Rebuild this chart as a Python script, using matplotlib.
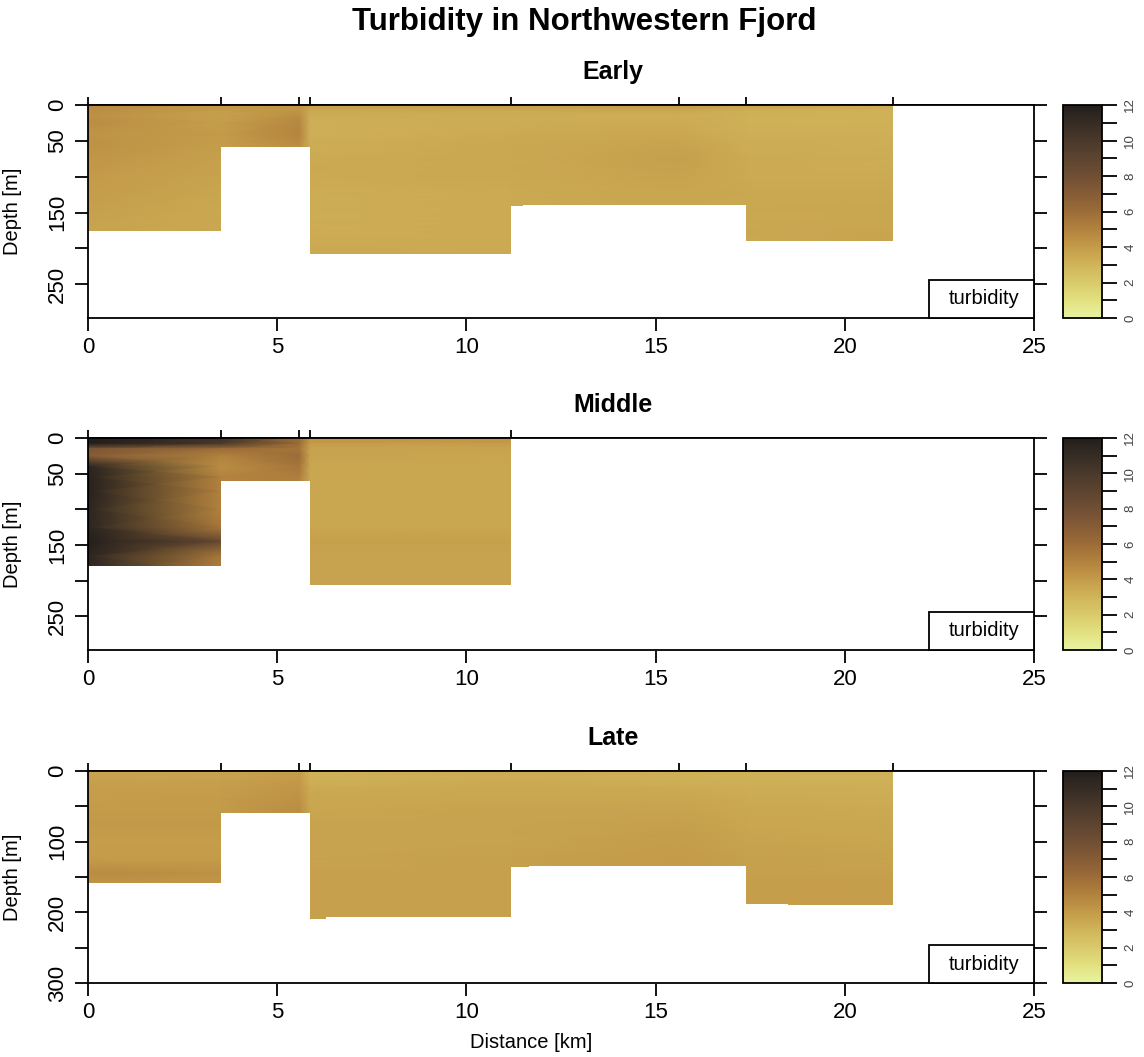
import numpy as np
import matplotlib
matplotlib.use("Agg")
import matplotlib.pyplot as plt
from matplotlib.colors import LinearSegmentedColormap, Normalize
from matplotlib.patches import Rectangle
import matplotlib.cm as cm

plt.rcParams['font.family'] = ['Liberation Sans', 'DejaVu Sans']

# STATION POSITIONS [km] AND PROFILE DEPTH LEVELS [m]
stations_km = [0.0, 3.52, 5.58, 5.87, 11.17, 15.63, 17.39, 21.28]
levels_m = [0, 8, 15, 25, 40, 55, 75, 100, 125, 145, 165, 190, 215]

# TURBIDITY PROFILES, ONE ROW PER STATION
early_turb = [
    [4.7, 4.5, 4.4, 4.5, 4.3, 4.4, 4.2, 4.0, 3.9, 3.8, 3.7, 3.6, 3.6],
    [4.2, 3.9, 3.8, 3.9, 4.0, 3.9, 3.8, 3.7, 3.6, 3.5, 3.5, 3.5, 3.5],
    [4.2, 4.3, 4.5, 4.8, 4.9, 4.6, 4.2, 4.0, 3.8, 3.7, 3.6, 3.6, 3.6],
    [3.9, 3.5, 3.3, 3.2, 3.2, 3.3, 3.4, 3.4, 3.3, 3.3, 3.3, 3.4, 3.5],
    [4.0, 3.4, 3.3, 3.3, 3.4, 3.5, 3.5, 3.5, 3.4, 3.4, 3.4, 3.4, 3.4],
    [4.1, 3.5, 3.3, 3.4, 3.5, 3.7, 3.8, 3.7, 3.6, 3.6, 3.6, 3.6, 3.6],
    [3.8, 3.2, 3.1, 3.1, 3.2, 3.3, 3.4, 3.4, 3.5, 3.5, 3.5, 3.5, 3.5],
    [3.4, 3.1, 3.1, 3.1, 3.2, 3.2, 3.3, 3.4, 3.5, 3.6, 3.6, 3.7, 3.7],
]
middle_turb = [
    [12.0, 12.0, 7.5, 7.0, 11.5, 11.8, 11.8, 11.5, 11.5, 12.0, 11.5, 11.5, 11.5],
    [10.5, 10.0, 6.0, 5.0, 4.5, 5.0, 5.0, 5.0, 5.5, 8.5, 5.5, 5.0, 5.0],
    [6.0, 6.0, 5.6, 6.0, 5.6, 5.2, 4.8, 4.8, 4.8, 4.8, 4.8, 4.8, 4.8],
    [4.4, 3.9, 3.7, 3.7, 3.6, 3.6, 3.6, 3.6, 3.6, 3.8, 3.7, 3.7, 3.7],
    [4.4, 3.9, 3.7, 3.6, 3.6, 3.6, 3.6, 3.6, 3.6, 3.8, 3.7, 3.7, 3.7],
]
late_turb = [
    [3.7, 3.7, 3.8, 3.9, 3.9, 4.0, 4.1, 3.9, 4.0, 4.6, 4.1, 4.1, 4.1],
    [3.7, 3.7, 3.8, 3.9, 4.0, 4.0, 4.1, 3.9, 4.0, 4.4, 4.1, 4.1, 4.1],
    [3.9, 4.0, 4.1, 4.2, 4.4, 4.5, 4.2, 4.1, 4.0, 4.0, 4.0, 4.0, 4.0],
    [3.1, 3.1, 3.2, 3.4, 3.5, 3.6, 3.7, 3.7, 3.7, 3.8, 3.8, 3.8, 3.8],
    [3.4, 3.3, 3.4, 3.5, 3.6, 3.7, 3.7, 3.7, 3.8, 3.8, 3.8, 3.8, 3.8],
    [3.2, 3.1, 3.2, 3.4, 3.6, 3.7, 3.8, 3.9, 4.0, 3.9, 3.9, 3.9, 3.9],
    [3.2, 3.1, 3.2, 3.3, 3.4, 3.5, 3.6, 3.7, 3.8, 3.8, 3.9, 3.9, 3.9],
    [3.2, 3.1, 3.1, 3.2, 3.3, 3.4, 3.5, 3.6, 3.7, 3.8, 3.9, 3.9, 3.9],
]

# BOTTOM (STEP) EDGES [km] AND DEPTHS [m]
early_bot_x = [0, 3.52, 5.87, 11.17, 11.5, 17.39, 21.28]
early_bot_d = [175, 59, 208, 141, 139.5, 189]
middle_bot_x = [0, 3.52, 5.87, 11.17]
middle_bot_d = [179, 60.5, 206.5]
late_bot_x = [0, 3.52, 5.87, 6.3, 11.17, 11.65, 17.39, 18.5, 21.28]
late_bot_d = [159, 60, 210, 206.5, 136, 135, 187.7, 190]

titles = ["Early", "Middle", "Late"]

# TURBID-LIKE COLORMAP (0 .. 12)
cmap_rgb = [(233, 243, 160), (226, 224, 128), (217, 202, 108), (208, 180, 90),
            (196, 155, 73), (178, 130, 62), (156, 108, 56), (134, 92, 54),
            (112, 79, 52), (93, 68, 48), (74, 57, 43), (54, 44, 36), (35, 30, 28)]
turbid = LinearSegmentedColormap.from_list("turbid", [tuple(c / 255 for c in rgb) for rgb in cmap_rgb])
norm = Normalize(0, 12)

W, H = 1144, 1057
fig = plt.figure(figsize=(W / 100, H / 100), dpi=100)

def fx(px):
    return px / W

def fy(px):
    return 1 - px / H

panels = [
    (early_turb, stations_km, early_bot_x, early_bot_d, 105, 318, 297),
    (middle_turb, stations_km[:5], middle_bot_x, middle_bot_d, 438, 650, 297),
    (late_turb, stations_km, late_bot_x, late_bot_d, 771, 983, 300),
]

LW = 1.3
for k, (turb, st, bx, bd, top, bot, ymax) in enumerate(panels):
    ax = fig.add_axes([fx(88), fy(bot), fx(1034 - 88), (bot - top) / H])
    C = np.array(turb).T
    mesh = ax.pcolormesh(st, levels_m, C, shading='gouraud', cmap=turbid, norm=norm, zorder=1)
    # white below the bottom and past the last station
    ax.fill_between(bx + [25], bd + [0, 0], 400, step='post', color='white', lw=0, zorder=2)
    ax.set_xlim(0, 25)
    ax.set_ylim(ymax, 0)
    ax.set_xticks([0, 5, 10, 15, 20, 25])
    if ymax == 300:
        ax.set_yticks([0, 50, 100, 150, 200, 250, 300])
        ax.set_yticklabels(['0', '', '100', '', '200', '', '300'])
    else:
        ax.set_yticks([0, 50, 100, 150, 200, 250])
        ax.set_yticklabels(['0', '50', '', '150', '', '250'])
    ax.tick_params(axis='x', length=9.4, width=LW, labelsize=16, pad=4)
    ax.tick_params(axis='y', length=9.4, width=LW, labelsize=16, pad=5, labelrotation=90,
                   right=True, labelright=False)
    for lab in ax.get_yticklabels():
        lab.set_va('center')
    for s in ax.spines.values():
        s.set_linewidth(LW)
        s.set_zorder(5)
    ax.set_ylabel("Depth [m]", fontsize=14.5)
    ax.yaxis.set_label_coords(-0.07, 0.5)

    sec = ax.secondary_xaxis('top')
    sec.set_xticks(st)
    sec.tick_params(length=6, width=LW, labeltop=False)
    sec.spines['top'].set_linewidth(LW)

    # legend box
    x0 = (929 - 88) / 946
    h0 = 38 / (bot - top)
    ax.add_patch(Rectangle((x0, 0), 1 - x0, h0, transform=ax.transAxes, fill=True,
                           facecolor='white', edgecolor='black', lw=LW, zorder=6, clip_on=False))
    ax.text((x0 + 1) / 2 + 0.003, h0 / 2, "turbidity", transform=ax.transAxes, ha='center',
            va='center', fontsize=14.5, zorder=7)

    # colorbar
    cax = fig.add_axes([fx(1063), fy(bot), fx(1102 - 1063), (bot - top) / H])
    cb = fig.colorbar(cm.ScalarMappable(norm=norm, cmap=turbid), cax=cax, ticks=range(0, 13))
    cb.set_ticklabels([str(v) if v % 2 == 0 else '' for v in range(0, 13)])
    cax.tick_params(length=11, width=LW, labelsize=9.5, labelcolor='#444444', pad=5,
                    labelrotation=90)
    for lab in cax.get_yticklabels():
        lab.set_va('center')
    cb.outline.set_linewidth(LW)

    fig.text(fx(613), fy(top - 33), titles[k], ha='center', va='center', fontsize=18,
             fontweight='bold')

ax.set_xlabel("Distance [km]", fontsize=14.5)
ax.xaxis.set_label_coords((531 - 88) / 946, -(1033 - 983) / (983 - 771))

fig.text(fx(584), fy(22), "Turbidity in Northwestern Fjord", ha='center', va='center',
         fontsize=22.5, fontweight='bold')

fig.savefig("out.png", dpi=100)
